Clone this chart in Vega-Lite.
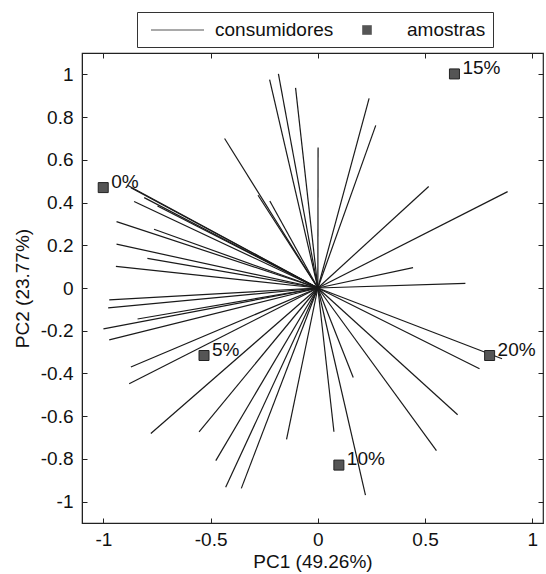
{
  "$schema": "https://vega.github.io/schema/vega-lite/v6.json",
  "autosize": {"type": "none"},
  "padding": {"left": 82, "top": 53, "right": 3, "bottom": 51},
  "width": 461,
  "height": 470,
  "background": "white",
  "config": {
    "font": "Liberation Sans",
    "view": {"stroke": "#222", "strokeWidth": 1.2},
    "axis": {
      "grid": false,
      "domainColor": "#222",
      "tickColor": "#222",
      "labelColor": "#111",
      "titleColor": "#111",
      "labelFont": "Liberation Sans",
      "titleFont": "Liberation Sans",
      "labelFontSize": 19,
      "titleFontSize": 19,
      "titleFontWeight": "normal",
      "tickSize": -5,
      "labelExpr": "replace(format(datum.value, '~g'), '\u2212', '-')"
    }
  },
  "datasets": {
    "consumidores": [
      {"x": -0.225, "y": 0.975}, {"x": -0.184, "y": 1.002}, {"x": -0.104, "y": 0.937},
      {"x": 0.001, "y": 0.658}, {"x": -0.435, "y": 0.700}, {"x": -0.279, "y": 0.434},
      {"x": -0.224, "y": 0.407}, {"x": -0.888, "y": 0.481}, {"x": -0.872, "y": 0.469},
      {"x": -0.810, "y": 0.423}, {"x": -0.857, "y": 0.405}, {"x": -0.748, "y": 0.384},
      {"x": -0.939, "y": 0.311}, {"x": -0.764, "y": 0.275}, {"x": -0.939, "y": 0.205},
      {"x": -0.795, "y": 0.139}, {"x": -0.942, "y": 0.101},
      {"x": 0.239, "y": 0.888}, {"x": 0.270, "y": 0.761}, {"x": 0.517, "y": 0.475},
      {"x": 0.885, "y": 0.451}, {"x": 0.444, "y": 0.095}, {"x": 0.688, "y": 0.022},
      {"x": -0.973, "y": -0.056}, {"x": -0.978, "y": -0.093}, {"x": -0.841, "y": -0.145},
      {"x": -1.0, "y": -0.191}, {"x": -0.973, "y": -0.243}, {"x": -0.872, "y": -0.370},
      {"x": -0.880, "y": -0.448}, {"x": -0.779, "y": -0.681}, {"x": -0.554, "y": -0.673},
      {"x": -0.476, "y": -0.808}, {"x": -0.430, "y": -0.933}, {"x": -0.357, "y": -0.938},
      {"x": -0.146, "y": -0.709},
      {"x": 0.859, "y": -0.331}, {"x": 0.754, "y": -0.378}, {"x": 0.652, "y": -0.593},
      {"x": 0.553, "y": -0.761}, {"x": 0.165, "y": -0.419}, {"x": 0.075, "y": -0.673},
      {"x": 0.222, "y": -0.969}
    ],
    "amostras": [
      {"x": -1.001, "y": 0.47, "label": "0%", "tipo": "amostras"},
      {"x": -0.531, "y": -0.316, "label": "5%", "tipo": "amostras"},
      {"x": 0.098, "y": -0.829, "label": "10%", "tipo": "amostras"},
      {"x": 0.637, "y": 1.002, "label": "15%", "tipo": "amostras"},
      {"x": 0.801, "y": -0.316, "label": "20%", "tipo": "amostras"}
    ]
  },
  "resolve": {"axis": {"x": "independent", "y": "independent"}},
  "layer": [
    {
      "data": {"name": "consumidores"},
      "mark": {"type": "rule", "color": "#1a1a1a", "strokeWidth": 1.2},
      "encoding": {
        "x": {
          "field": "x", "type": "quantitative",
          "scale": {"domain": [-1.1, 1.05], "nice": false, "zero": false},
          "axis": {"orient": "bottom", "values": [-1, -0.5, 0, 0.5, 1], "title": "PC1 (49.26%)", "labelPadding": 12, "titlePadding": 3}
        },
        "y": {
          "field": "y", "type": "quantitative",
          "scale": {"domain": [-1.1, 1.1], "nice": false, "zero": false},
          "axis": {"orient": "left", "values": [-1, -0.8, -0.6, -0.4, -0.2, 0, 0.2, 0.4, 0.6, 0.8, 1], "title": "PC2 (23.77%)", "labelPadding": 14, "titlePadding": 8}
        },
        "x2": {"datum": 0},
        "y2": {"datum": 0}
      }
    },
    {
      "data": {"name": "amostras"},
      "mark": {"type": "point", "filled": true, "fill": "#555", "stroke": "#222", "strokeWidth": 1.2, "opacity": 1, "size": 0},
      "encoding": {
        "x": {
          "field": "x", "type": "quantitative",
          "axis": {"orient": "top", "values": [-1, -0.5, 0, 0.5, 1], "labels": false, "title": null, "domain": false}
        },
        "y": {
          "field": "y", "type": "quantitative",
          "axis": {"orient": "right", "values": [-1, -0.8, -0.6, -0.4, -0.2, 0, 0.2, 0.4, 0.6, 0.8, 1], "labels": false, "title": null, "domain": false}
        },
        "shape": {
          "field": "tipo", "type": "nominal",
          "scale": {
            "domain": ["consumidores", "amostras"],
            "range": ["M-0.4,-0.06L4.9,-0.06L4.9,0.06L-0.4,0.06Z", "M1.52,-0.48L2.48,-0.48L2.48,0.48L1.52,0.48Z"]
          },
          "legend": {
            "title": null,
            "orient": "none",
            "direction": "horizontal",
            "legendX": 55,
            "legendY": -41,
            "symbolSize": 400,
            "symbolOpacity": 1,
            "symbolStrokeColor": "#222",
            "symbolFillColor": "#555",
            "symbolStrokeWidth": 1.2,
            "labelFontSize": 19,
            "labelFont": "Liberation Sans",
            "labelColor": "#111",
            "labelOffset": 49,
            "columnPadding": 2,
            "padding": 7,
            "strokeColor": "#333",
            "fillColor": "white"
          }
        }
      }
    },
    {
      "data": {"name": "amostras"},
      "mark": {"type": "point", "shape": "square", "filled": true, "fill": "#555", "stroke": "#222", "strokeWidth": 1, "opacity": 1, "size": 100},
      "encoding": {
        "x": {"field": "x", "type": "quantitative", "axis": null},
        "y": {"field": "y", "type": "quantitative", "axis": null}
      }
    },
    {
      "data": {"name": "amostras"},
      "mark": {"type": "text", "align": "left", "baseline": "middle", "dx": 8, "dy": -6, "fontSize": 19, "font": "Liberation Sans", "color": "#111"},
      "encoding": {
        "x": {"field": "x", "type": "quantitative", "axis": null},
        "y": {"field": "y", "type": "quantitative", "axis": null},
        "text": {"field": "label"}
      }
    }
  ]
}
